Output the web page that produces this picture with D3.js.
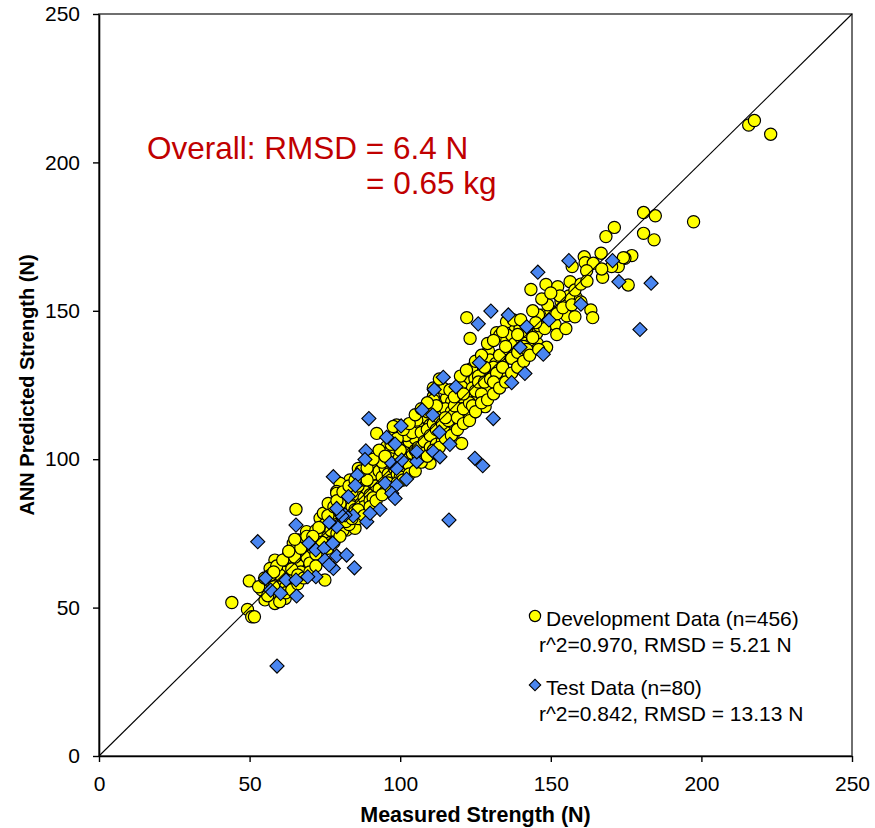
<!DOCTYPE html>
<html>
<head>
<meta charset="utf-8">
<script src="https://cdnjs.cloudflare.com/ajax/libs/d3/7.8.5/d3.min.js"></script>
<style>
  body { margin: 0; background: #fff; }
  svg text { font-family: "Liberation Sans", Arial, sans-serif; }
</style>
</head>
<body>
<script>
(function(){

//tick values shared by both axes
var axisTicks = [0, 50, 100, 150, 200, 250];

//development data [measured, predicted] (N)
var devPoints = [
  [215.7,212.6],[217.6,214.1],[223.0,209.5],[197.4,180.0],[180.8,183.1],[184.7,182.0],[180.8,176.1],[184.3,173.9],
  [171.1,178.1],[168.3,175.0],[176.9,168.6],[174.6,167.7],[166.7,169.4],[172.4,164.9],[170.2,164.9],[167.2,161.3],
  [175.7,158.7],[161.1,168.2],[161.4,166.2],[164.1,166.0],[157.1,164.9],[161.9,163.5],[166.9,164.1],[174.1,167.9],
  [143.4,157.2],[148.4,158.9],[152.3,158.1],[156.4,159.8],[158.4,154.5],[153.4,153.1],[163.3,150.3],[163.9,147.7],
  [147.5,148.6],[155.3,148.3],[151.4,145.4],[143.8,139.9],[145.5,139.0],[148.6,137.7],[122.1,147.7],[123.2,140.7],
  [132.0,142.6],[133.1,141.8],[129.3,136.5],[135.4,140.2],[137.0,141.8],[138.1,144.9],[139.8,144.1],[143.6,143.0],
  [137.0,137.4],[138.7,133.4],[135.4,134.0],[133.1,133.7],[129.8,133.4],[126.3,131.2],[123.7,130.6],[128.2,128.9],
  [130.9,128.9],[134.8,128.4],[121.5,126.1],[117.6,119.9],[125.4,121.1],[127.6,118.3],[122.6,117.7],[118.8,116.0],
  [135.3,146.3],[133.1,132.9],[135.3,135.6],[143.1,140.2],[145.3,142.4],[142.0,135.1],[129.8,130.1],[131.8,132.3],
  [122.1,125.8],[124.8,127.2],[126.7,125.0],[129.8,123.9],[125.9,121.1],[128.2,117.7],[120.4,124.4],[117.1,123.3],
  [115.4,120.5],[117.1,119.4],[121.0,119.4],[114.3,123.9],[111.0,121.1],[111.0,117.7],[113.8,116.6],[116.0,115.5],
  [122.1,116.6],[119.9,111.5],[123.2,114.3],[107.7,114.3],[106.6,110.4],[109.9,111.5],[112.1,108.7],[114.9,109.2],
  [120.4,105.3],[108.8,105.9],[104.3,105.3],[101.6,106.5],[98.3,109.3],[98.8,111.5],[105.5,113.2],[145.9,148.6],
  [137.6,146.9],[116.5,123.3],[111.0,119.9],[97.7,111.0],[92.2,108.7],[95.5,104.2],[100.5,107.6],[102.1,104.2],
  [106.6,108.7],[103.3,100.8],[109.9,98.6],[93.3,100.8],[91.1,97.5],[86.1,96.9],[83.3,93.0],[80.0,91.9],
  [90.0,95.2],[92.2,93.0],[78.9,89.1],[87.2,90.7],[92.2,89.1],[81.1,87.4],
  [65.4,83.1],[49.9,59.0],[44.1,51.7],[49.3,49.4],[50.7,46.9],[51.6,46.9],[55.1,52.6],[58.4,51.4],
  [61.8,53.1],[59.0,54.8],[56.2,58.7],[58.4,66.0],[60.7,63.2],[62.8,67.7],[64.5,71.7],[65.6,70.0],
  [68.9,63.2],[68.4,66.6],[56.8,63.2],[59.0,60.4],[61.8,59.3],[64.0,59.3],[70.1,69.4],[68.9,75.6],
  [66.2,72.8],[72.3,73.3],[73.4,80.1],[74.5,81.8],[76.1,85.1],[75.6,76.7],[78.9,88.5],[80.0,78.4],
  [83.3,85.7],[85.5,86.3],[82.2,76.1],[85.0,76.7],[82.8,87.9],[75.0,59.3],
  [62,64],[63,61],[64,66],[66,65],[67,68],[68,70],[69,67],[70,72],[71,70],[72,76],[73,71],[74,74],[70,65],[67,62],
  [65,67],[63,63],[61,62],[60,57],[58,57],[57,55],[54,56],[56,54],[60,61],[62,57],[64,63],[66,61],[67,70],[69,74],
  [75,78],[76,74],[77,76],[78,80],[79,78],[80,82],[81,79],[82,83],[83,81],[84,84],[85,83],[86,88],[87,85],[88,87],
  [89,90],[90,88],[77,72],[79,75],[81,76],[83,78],[86,80],[88,84],[90,86],[91,92],[76,81],[78,84],[80,85],[84,89],
  [86,91],[88,93],[73,77],[74,72],[71,74],[72,68],
  [91,95],[92,91],[93,96],[94,94],[95,97],[96,95],[97,100],[98,97],[99,101],[100,98],[101,103],[102,100],[103,106],
  [104,102],[105,107],[93,90],[95,89],[97,93],[99,95],[101,97],[103,98],[105,103],[94,99],[96,102],[98,104],[100,103],
  [102,108],[104,109],[96,92],[100,94],[89,93],[91,87],
  [106,104],[107,109],[108,106],[109,110],[110,108],[111,112],[112,110],[113,114],[114,112],[115,117],[116,113],
  [117,116],[118,118],[119,114],[120,121],[121,117],[122,122],[123,119],[124,124],[125,123],[106,101],[108,102],
  [110,104],[112,105],[114,106],[118,109],[109,116],[112,118],[115,114],[118,121],[121,122],[124,118],[126,128],[127,122],
  [126,126],[128,126],[130,127],[131,131],[132,129],[133,135],[134,131],[136,137],[137,134],[138,139],[139,136],
  [140,141],[141,138],[142,143],[144,141],[146,145],[148,144],[150,150],[152,149],[154,151],[156,155],[158,157],
  [160,159],[128,131],[131,126],[135,138],[139,142],[142,137],[145,146],[149,152],[153,155],[157,152],[162,160],
  [57,61],[59,64],[61,66],[63,69],[65,73],[60,52],[62,55],[64,56],[66,58],[68,60],[70,62],[72,64],[53,57],[55,60],[58,62],
  [76,70],[78,72],[80,74],[82,79],[84,80],[86,83],[88,81],[90,84],[92,86],[94,88],[79,86],[81,89],[83,91],[85,93],
  [87,96],[89,97],[91,100],[93,103],
  [95,101],[97,105],[99,107],[101,110],[103,112],[105,115],[107,117],[109,119],[111,124],[113,127],[97,90],[99,92],
  [101,93],[103,95],[105,96],[107,99],[109,101],[111,103],[113,104],[115,107],[117,108],[119,110],
  [121,112],[123,113],[125,116],[127,119],[129,120],[131,122],[133,124],[135,126],[137,129],[139,131],[141,133],
  [143,135],[146,137],[120,128],[122,130],[125,133],[127,135],[129,139],[131,140],[134,143],[140,147],[144,150],
  [147,154],[150,156],[152,142],[155,144],[158,148],[160,153]
];

//test data [measured, predicted] (N)
var testPoints = [
  [170.5,166.9],[172.6,159.8],[183.3,159.3],[179.6,143.7],[156.0,166.9],[145.7,163.0],[160.0,152.2],[149.4,146.9],
  [130.1,149.9],[125.9,145.6],[135.9,148.6],[142.0,144.6],[139.8,137.7],[147.5,135.4],[141.4,128.9],[137.0,125.8],
  [126.3,132.5],[118.5,124.4],[130.9,113.7],[114.3,127.6],[111.3,123.5],[107.3,116.6],[110.8,114.9],[100.3,111.2],
  [113.0,109.1],[116.5,105.0],[89.6,113.7],[95.5,107.4],[98.3,105.1],[111.0,102.5],[113.2,100.8],[124.8,100.3],
  [127.4,97.8],[88.6,102.8],[88.3,99.9],[97.2,98.6],[105.5,99.2],[85.8,94.7],[77.8,94.1],[95.0,91.9],
  [102.1,93.3],[98.8,91.3],[97.2,88.5],[82.8,87.4],[100.5,99.7],[98.3,86.8],[93.3,83.1],[84.4,80.9],
  [81.7,81.2],[88.9,78.9],[90.0,81.8],[78.9,77.3],[116.2,79.5],[52.7,72.2],[65.4,77.8],[55.3,59.9],
  [57.0,55.9],[60.3,54.8],[62.1,59.3],[65.4,59.3],[65.6,53.9],[72.0,60.4],[69.7,71.7],[72.0,69.4],
  [74.8,70.0],[75.0,66.0],[77.8,63.2],[76.4,64.4],[77.6,71.7],[78.9,67.4],[82.2,67.7],[84.8,63.4],
  [80.7,80.9],[78.9,83.4],[76.5,78.6],[85.1,91.1],[59.1,30.3],[105.5,102.5],[98.8,96.9],[69.3,60.4]
];

var titleLines = ["Overall: RMSD = 6.4 N", "= 0.65 kg"];
var legendLines = [
  ["Development Data (n=456)", "r^2=0.970, RMSD = 5.21 N"],
  ["Test Data (n=80)", "r^2=0.842, RMSD = 13.13 N"]
];

var width = 875, height = 828;
var left = 99, right = 852, top = 14, bottom = 756;

var svg = d3.select("body").append("svg")
    .attr("width", width)
    .attr("height", height);

var x = d3.scaleLinear().domain([0, 250]).range([left, right]);
var y = d3.scaleLinear().domain([0, 250]).range([bottom, top]);

//plot frame (top and right)
svg.append("rect")
    .attr("x", left).attr("y", top)
    .attr("width", right - left).attr("height", bottom - top)
    .attr("fill", "none")
    .attr("stroke", "#404040")
    .attr("stroke-width", 1.5);

var diamond = d3.symbol().type(d3.symbolSquare).size(100);

//development points
svg.append("g").selectAll("circle")
    .data(devPoints)
    .enter()
    .append("circle")
    .attr("cx", function(d){ return x(d[0]); })
    .attr("cy", function(d){ return y(d[1]); })
    .attr("r", 6.1)
    .attr("fill", "#ffff00")
    .attr("stroke", "#000")
    .attr("stroke-width", 1.2);

//test points
svg.append("g").selectAll("path")
    .data(testPoints)
    .enter()
    .append("path")
    .attr("d", diamond)
    .attr("transform", function(d){
        return "translate(" + x(d[0]) + "," + y(d[1]) + ") rotate(45)";
    })
    .attr("fill", "#4a86f0")
    .attr("stroke", "#000")
    .attr("stroke-width", 1.1);

//1:1 line
svg.append("line")
    .attr("x1", x(0)).attr("y1", y(0))
    .attr("x2", x(250)).attr("y2", y(250))
    .attr("stroke", "#000")
    .attr("stroke-width", 1.1);

//axes
var xAxis = svg.append("g")
    .attr("transform", "translate(0," + bottom + ")")
    .call(d3.axisBottom(x).tickValues(axisTicks).tickSize(6).tickPadding(14).tickSizeOuter(0));
var yAxis = svg.append("g")
    .attr("transform", "translate(" + left + ",0)")
    .call(d3.axisLeft(y).tickValues(axisTicks).tickSize(6).tickPadding(13).tickSizeOuter(0));

[xAxis, yAxis].forEach(function(a){
    a.select(".domain").attr("stroke", "#000").attr("stroke-width", 1.6);
    a.selectAll(".tick line").attr("stroke", "#000").attr("stroke-width", 1.4);
    a.selectAll(".tick text")
        .attr("fill", "#000")
        .style("font-size", "21px")
        .style("font-family", "'Liberation Sans', Arial, sans-serif");
});

//axis titles
svg.append("text")
    .attr("x", (left + right) / 2)
    .attr("y", 822)
    .attr("text-anchor", "middle")
    .style("font-size", "21.5px")
    .style("font-weight", "bold")
    .text("Measured Strength (N)");

svg.append("text")
    .attr("transform", "translate(34," + (top + bottom) / 2 + ") rotate(-90)")
    .attr("text-anchor", "middle")
    .style("font-size", "20px")
    .style("font-weight", "bold")
    .text("ANN Predicted Strength (N)");

//overall RMSD annotation
svg.append("text")
    .attr("x", 147).attr("y", 159)
    .attr("fill", "#c00000")
    .style("font-size", "31.5px")
    .text(titleLines[0]);
svg.append("text")
    .attr("x", 366).attr("y", 194)
    .attr("fill", "#c00000")
    .style("font-size", "31.5px")
    .text(titleLines[1]);

//legend
var legend = svg.append("g");
legend.append("circle")
    .attr("cx", 535).attr("cy", 616).attr("r", 5.6)
    .attr("fill", "#ffff00").attr("stroke", "#000").attr("stroke-width", 1.2);
legend.append("path")
    .attr("d", d3.symbol().type(d3.symbolSquare).size(66))
    .attr("transform", "translate(535,685) rotate(45)")
    .attr("fill", "#4a86f0").attr("stroke", "#000").attr("stroke-width", 1.1);

var legendY = [[626, 652], [695, 721]];
legendLines.forEach(function(lines, i){
    legend.append("text")
        .attr("x", 546).attr("y", legendY[i][0])
        .style("font-size", "21px")
        .text(lines[0]);
    legend.append("text")
        .attr("x", 539).attr("y", legendY[i][1])
        .style("font-size", "21px")
        .text(lines[1]);
});

})();
</script>
</body>
</html>
